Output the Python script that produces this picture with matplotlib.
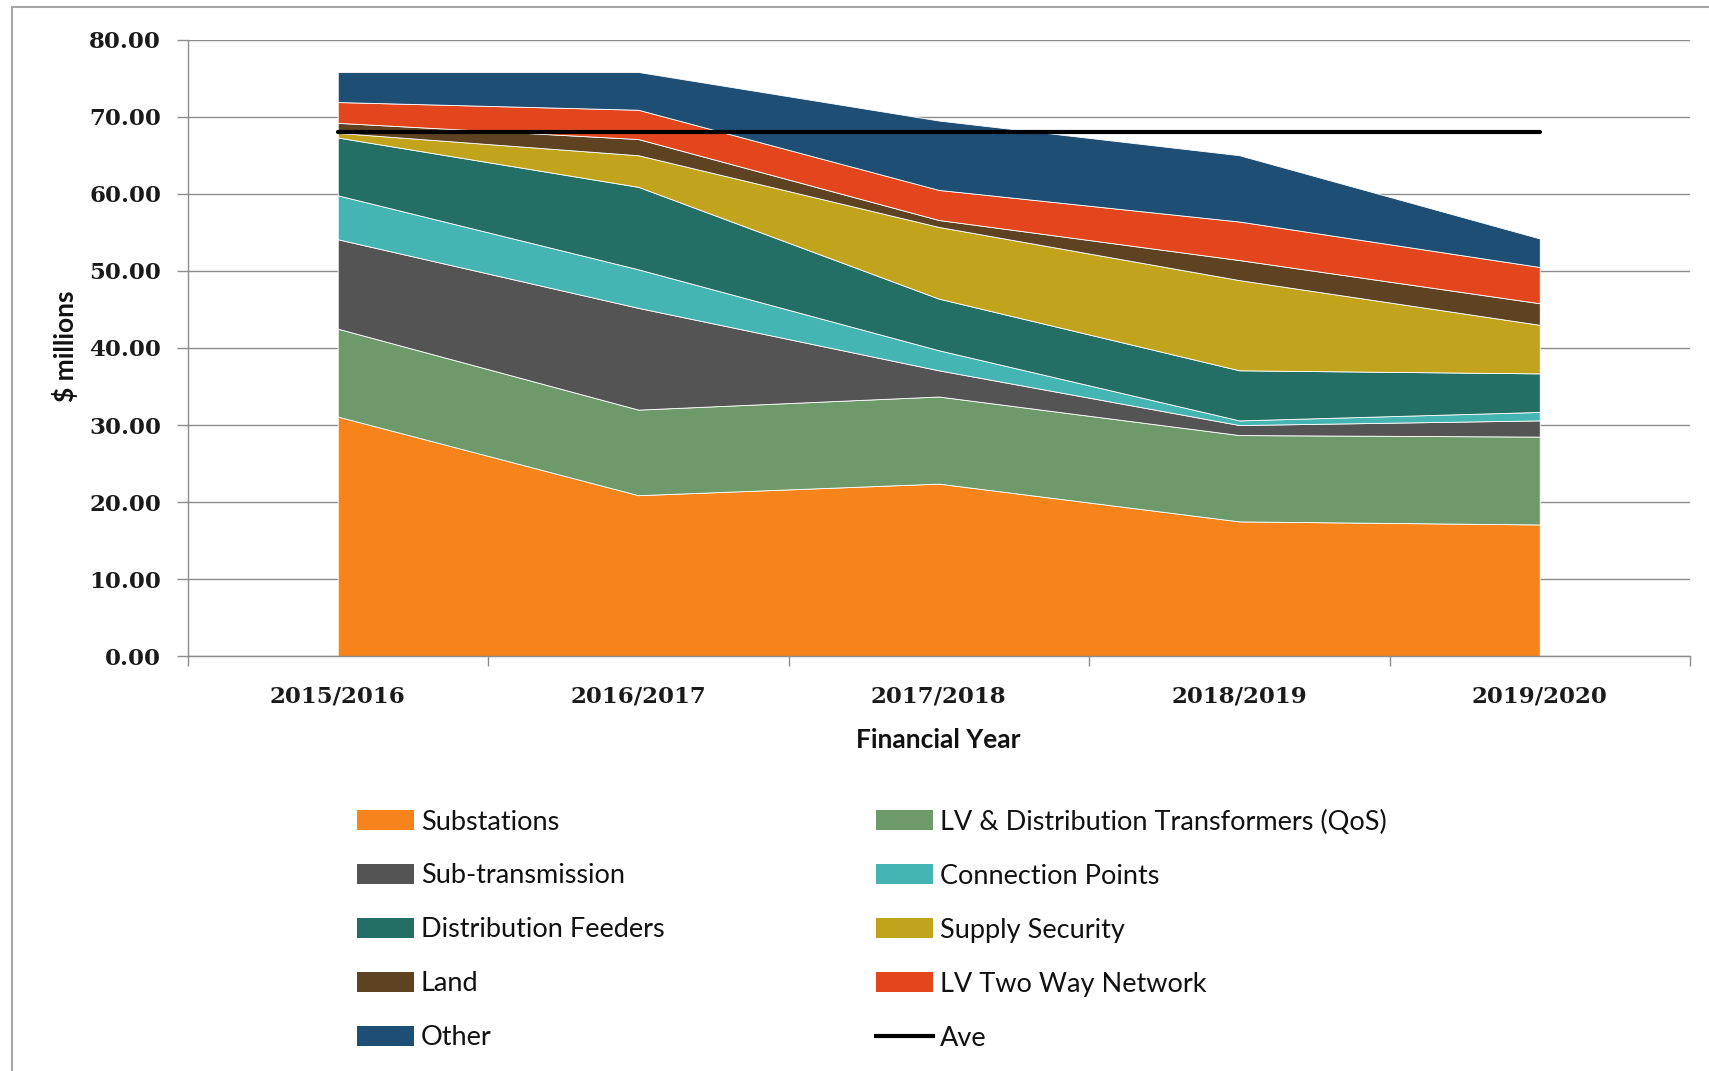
import matplotlib
matplotlib.use("Agg")
import matplotlib.pyplot as plt
import numpy as np
from matplotlib.patches import Rectangle, Patch
from matplotlib.lines import Line2D
from matplotlib import font_manager

# Capital expenditure by category, $ millions
years = ["2015/2016", "2016/2017", "2017/2018", "2018/2019", "2019/2020"]
substations = [31.1, 20.9, 22.4, 17.5, 17.1]
lv_dist_transformers = [11.4, 11.1, 11.3, 11.2, 11.4]
sub_transmission = [11.6, 13.2, 3.4, 1.3, 2.1]
connection_points = [5.7, 5.0, 2.6, 0.6, 1.1]
distribution_feeders = [7.5, 10.7, 6.7, 6.5, 5.0]
supply_security = [0.6, 4.1, 9.3, 11.7, 6.3]
land = [1.3, 2.1, 0.9, 2.6, 2.8]
lv_two_way = [2.7, 3.8, 3.9, 5.0, 4.7]
other = [3.9, 4.9, 9.0, 8.6, 3.7]

series_names = ["Substations", "LV & Distribution Transformers (QoS)",
                "Sub-transmission", "Connection Points", "Distribution Feeders",
                "Supply Security", "Land", "LV Two Way Network", "Other"]
series_values = [substations, lv_dist_transformers, sub_transmission,
                 connection_points, distribution_feeders, supply_security,
                 land, lv_two_way, other]
series_colors = ["#F7841A", "#6E9A6B", "#545454", "#44B5B2", "#236E65",
                 "#C1A31C", "#5E4323", "#E3461C", "#1F4E74"]

yticks = [0, 10, 20, 30, 40, 50, 60, 70, 80]

totals = np.sum(np.array(series_values), axis=0)
average = totals.mean()

installed = {f.name for f in font_manager.fontManager.ttflist}
legend_family = [f for f in ["Liberation Sans Narrow", "Lato", "DejaVu Sans"] if f in installed]
title_family = [f for f in ["Lato", "DejaVu Sans"] if f in installed]
tick_family = [f for f in ["DejaVu Serif"] if f in installed] or ["serif"]

W, H = 1709, 1071
fig = plt.figure(figsize=(W / 100, H / 100), dpi=100)
fig.patch.set_facecolor("white")

ax_left, ax_right, ax_top, ax_bottom = 187.5, 1690.0, 39.6, 656.3
ax = fig.add_axes([ax_left / W, 1 - ax_bottom / H,
                   (ax_right - ax_left) / W, (ax_bottom - ax_top) / H])

x = np.arange(len(years))
ax.stackplot(x, *series_values, colors=series_colors,
             edgecolor="white", linewidth=0.6, zorder=2)
ax.plot([x[0], x[-1]], [average, average], color="black", lw=3.0,
        solid_capstyle="round", zorder=3)

ax.set_xlim(-0.5, len(years) - 0.5)
ax.set_ylim(0, 80)

ax.set_yticks(yticks)
ax.set_yticklabels([f"{v:.2f}" for v in yticks])
ax.yaxis.grid(True, color="#8C8C8C", lw=1.0, zorder=0)
ax.set_axisbelow(True)

ax.set_xticks(np.arange(-0.5, len(years) + 0.5, 1.0))
ax.set_xticklabels([])
ax.set_xticks(x, minor=True)
ax.set_xticklabels(years, minor=True)
ax.tick_params(axis="x", which="major", length=7, width=1, color="#8C8C8C", direction="out")
ax.tick_params(axis="x", which="minor", length=0, pad=21)
ax.tick_params(axis="y", length=8, width=1, color="#8C8C8C", direction="out", pad=11)

for lab in ax.get_yticklabels() + ax.get_xticklabels(minor=True):
    lab.set_fontfamily(tick_family)
    lab.set_fontweight("bold")
    lab.set_fontsize(16.5)
    lab.set_color("#1A1A1A")

for side in ["top", "right"]:
    ax.spines[side].set_visible(False)
for side in ["left", "bottom"]:
    ax.spines[side].set_color("#8C8C8C")
    ax.spines[side].set_linewidth(1.0)

fig.text(65 / W, 1 - 346 / H, "$ millions", rotation=90, ha="center", va="center",
         fontsize=19, fontweight="bold", family=title_family, color="#111111")
fig.text(938 / W, 1 - 740 / H, "Financial Year", ha="center", va="center",
         fontsize=19, fontweight="bold", family=title_family, color="#111111")

# Legend: two columns, row-wise ordering
handles = [Patch(facecolor=c, edgecolor="none") for c in series_colors]
ave_handle = Line2D([0], [0], color="black", lw=3.0)
col1 = [0, 2, 4, 6, 8]
col2 = [1, 3, 5, 7]
leg_kw = dict(frameon=False, prop={"family": legend_family, "size": 19.5},
              handlelength=2.1, handleheight=0.75, handletextpad=0.26,
              labelspacing=1.07, borderpad=0, borderaxespad=0, loc="upper left")
leg1 = fig.legend([handles[i] for i in col1], [series_names[i] for i in col1],
                  bbox_to_anchor=(357 / W, 1 - 809.5 / H), **leg_kw)
leg2 = fig.legend([handles[i] for i in col2] + [ave_handle],
                  [series_names[i] for i in col2] + ["Ave"],
                  bbox_to_anchor=(876 / W, 1 - 809.5 / H), **leg_kw)
for leg in (leg1, leg2):
    for t in leg.get_texts():
        t.set_color("#111111")

# Outer chart frame
fig.add_artist(Rectangle((12 / W, -0.1), 1.2, 1 - 7 / H + 0.1,
                         transform=fig.transFigure, fill=False,
                         edgecolor="#A6A6A6", lw=1.5))

fig.savefig("out.png", dpi=100, facecolor="white")
